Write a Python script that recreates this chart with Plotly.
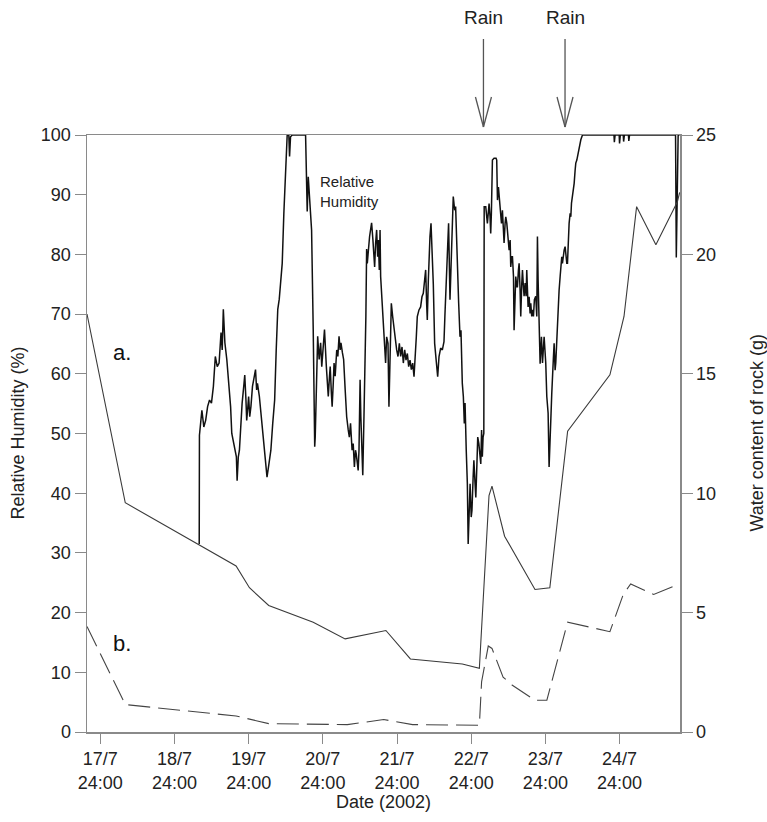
import plotly.graph_objects as go

# ---------------- data ----------------
# x values: days after 17/7 24:00 (2002)
tick_days = [0, 1, 2, 3, 4, 5, 6, 7]
tick_labels = ["17/7<br>24:00", "18/7<br>24:00", "19/7<br>24:00", "20/7<br>24:00",
               "21/7<br>24:00", "22/7<br>24:00", "23/7<br>24:00", "24/7<br>24:00"]

rh_day = [
    1.333, 1.336, 1.369, 1.395, 1.420, 1.446, 1.472, 1.498, 1.524, 1.550,
    1.576, 1.601, 1.627, 1.643, 1.658, 1.679, 1.705, 1.730, 1.756, 1.772,
    1.808, 1.834, 1.844, 1.860, 1.875, 1.896, 1.911, 1.937, 1.947, 1.963,
    1.973, 1.989, 1.999, 2.014, 2.030, 2.051, 2.071, 2.092, 2.107, 2.118,
    2.144, 2.169, 2.195, 2.221, 2.247, 2.273, 2.299, 2.324, 2.350, 2.371,
    2.392, 2.412, 2.452, 2.474, 2.497, 2.510, 2.519, 2.541, 2.551, 2.564,
    2.587, 2.767, 2.776, 2.789, 2.803, 2.816, 2.834, 2.848, 2.870, 2.882,
    2.890, 2.897, 2.915, 2.930, 2.950, 2.970, 2.985, 3.006, 3.022, 3.047,
    3.073, 3.089, 3.099, 3.115, 3.125, 3.140, 3.151, 3.166, 3.187, 3.202,
    3.218, 3.233, 3.244, 3.264, 3.280, 3.301, 3.321, 3.342, 3.357, 3.373,
    3.394, 3.409, 3.425, 3.440, 3.450, 3.466, 3.476, 3.487, 3.502, 3.512,
    3.523, 3.538, 3.554, 3.564, 3.580, 3.590, 3.599, 3.630, 3.657, 3.675,
    3.698, 3.711, 3.725, 3.739, 3.748, 3.761, 3.771, 3.779, 3.797, 3.815,
    3.833, 3.846, 3.860, 3.878, 3.891, 3.905, 3.923, 3.941, 3.959, 3.977,
    3.995, 4.013, 4.031, 4.049, 4.067, 4.085, 4.103, 4.121, 4.139, 4.157,
    4.175, 4.193, 4.211, 4.229, 4.242, 4.260, 4.273, 4.296, 4.318, 4.336,
    4.354, 4.372, 4.386, 4.399, 4.408, 4.422, 4.431, 4.444, 4.458, 4.476,
    4.489, 4.507, 4.530, 4.548, 4.566, 4.588, 4.611, 4.633, 4.645, 4.656,
    4.669, 4.680, 4.695, 4.714, 4.732, 4.746, 4.758, 4.777, 4.790, 4.804,
    4.813, 4.831, 4.849, 4.862, 4.880, 4.894, 4.907, 4.917, 4.933, 4.948,
    4.959, 4.974, 4.985, 5.000, 5.010, 5.026, 5.036, 5.052, 5.062, 5.077,
    5.088, 5.103, 5.114, 5.129, 5.140, 5.150, 5.160, 5.170, 5.175, 5.196,
    5.218, 5.232, 5.241, 5.254, 5.263, 5.272, 5.277, 5.286, 5.308, 5.335,
    5.344, 5.354, 5.367, 5.376, 5.390, 5.399, 5.408, 5.421, 5.435, 5.443,
    5.457, 5.466, 5.480, 5.489, 5.502, 5.511, 5.525, 5.533, 5.547, 5.556,
    5.570, 5.578, 5.592, 5.601, 5.614, 5.623, 5.637, 5.646, 5.659, 5.668,
    5.682, 5.691, 5.704, 5.713, 5.727, 5.740, 5.749, 5.758, 5.767, 5.781,
    5.794, 5.803, 5.816, 5.825, 5.839, 5.852, 5.870, 5.884, 5.893, 5.902,
    5.915, 5.929, 5.947, 5.961, 5.983, 6.005, 6.019, 6.037, 6.050, 6.064,
    6.073, 6.086, 6.095, 6.109, 6.118, 6.131, 6.140, 6.154, 6.163, 6.177,
    6.185, 6.199, 6.208, 6.221, 6.230, 6.244, 6.253, 6.266, 6.275, 6.289,
    6.298, 6.311, 6.320, 6.334, 6.343, 6.352, 6.365, 6.379, 6.388, 6.401,
    6.410, 6.424, 6.433, 6.446, 6.455, 6.469, 6.478, 6.500, 6.925, 6.930,
    6.940, 6.995, 7.000, 7.010, 7.050, 7.055, 7.065, 7.120, 7.125, 7.135,
    7.755, 7.765, 7.775, 7.790, 7.810,
]
rh_pct = [
    31.5, 49.7, 53.9, 51.1, 52.2, 54.5, 55.6, 55.1, 57.9, 62.9,
    61.2, 61.8, 66.9, 64.0, 70.8, 65.2, 62.4, 59.0, 54.5, 50.0,
    47.8, 46.1, 42.1, 46.1, 47.2, 52.2, 55.0, 58.4, 59.8, 55.6,
    52.2, 54.5, 56.2, 52.8, 54.5, 57.9, 59.0, 60.7, 57.3, 58.4,
    56.2, 52.8, 49.4, 46.1, 42.7, 44.9, 47.2, 51.7, 55.6, 64.0,
    70.8, 72.5, 78.5, 86.9, 95.3, 98.6, 100.0, 100.0, 96.4, 99.7,
    100.0, 100.0, 93.6, 87.2, 93.0, 89.7, 85.2, 84.1, 67.4, 50.6,
    47.8, 49.4, 58.4, 66.3, 62.4, 65.2, 61.2, 64.6, 67.4, 61.2,
    56.2, 59.5, 61.2, 56.7, 54.5, 58.4, 61.8, 59.6, 64.0, 62.9,
    66.3, 64.0, 65.2, 63.5, 62.4, 57.3, 52.8, 50.6, 49.4, 51.7,
    47.2, 48.3, 44.4, 47.2, 46.6, 44.9, 43.8, 47.2, 59.0, 52.8,
    47.2, 43.0, 52.8, 58.4, 69.7, 80.9, 78.5, 83.0, 85.3, 82.4,
    77.9, 81.8, 84.1, 79.6, 82.4, 77.4, 84.1, 76.3, 72.9, 68.5,
    65.1, 61.8, 66.2, 65.1, 54.5, 61.8, 71.8, 69.6, 67.4, 65.1,
    64.0, 62.9, 65.1, 62.9, 64.5, 61.8, 64.0, 62.3, 63.4, 61.2,
    62.3, 60.7, 61.8, 59.5, 61.8, 66.2, 69.6, 70.7, 71.2, 72.9,
    73.5, 76.3, 77.4, 71.8, 69.0, 75.7, 80.7, 83.0, 85.2, 79.6,
    75.0, 65.1, 61.8, 59.5, 62.9, 64.3, 64.0, 65.4, 69.6, 72.9,
    78.5, 81.0, 85.2, 72.4, 79.6, 84.1, 89.7, 87.4, 88.0, 82.4,
    76.8, 71.8, 66.2, 67.3, 58.4, 56.2, 51.7, 55.1, 47.2, 41.6,
    31.5, 38.2, 41.6, 36.0, 37.1, 42.7, 45.5, 41.6, 39.3, 44.9,
    49.4, 48.3, 47.2, 44.9, 50.6, 46.1, 49.4, 50.0, 88.0, 88.0,
    85.2, 87.4, 88.5, 86.3, 83.5, 86.9, 89.7, 95.8, 96.1, 96.1,
    95.8, 89.1, 91.3, 89.7, 88.0, 86.3, 85.2, 87.4, 84.1, 81.9,
    85.2, 86.3, 85.2, 84.1, 81.9, 80.7, 82.4, 77.9, 79.6, 79.6,
    76.3, 67.3, 72.9, 76.3, 74.6, 74.6, 77.4, 78.5, 74.0, 69.6,
    75.2, 77.4, 74.6, 73.0, 75.2, 73.0, 77.4, 74.0, 71.2, 72.9,
    70.1, 71.8, 69.6, 70.7, 69.6, 72.4, 73.0, 69.6, 83.0, 75.7,
    69.6, 61.7, 66.2, 61.8, 66.2, 61.8, 56.2, 53.4, 44.4, 47.9,
    52.2, 56.7, 60.6, 62.9, 65.1, 60.6, 61.8, 66.2, 69.6, 71.8,
    74.0, 76.3, 77.4, 79.6, 78.5, 80.7, 80.7, 81.3, 79.6, 78.5,
    78.5, 84.1, 85.2, 86.9, 86.3, 88.6, 89.7, 91.3, 91.9, 94.1,
    95.3, 95.8, 96.4, 97.5, 98.0, 98.6, 99.2, 100.0, 100.0, 98.8,
    100.0, 100.0, 98.6, 100.0, 100.0, 98.9, 100.0, 100.0, 99.0, 100.0,
    100.0, 79.5, 86.0, 100.0, 100.0,
]

water_a_day = [-0.18, 0.336, 1.83, 2.01, 2.27, 2.87, 3.30, 3.85, 4.18, 4.88,
               5.11, 5.24, 5.28, 5.45, 5.86, 6.06, 6.30, 6.87, 7.06, 7.23,
               7.49, 7.78, 7.81]
water_a_g = [17.5, 9.6, 6.95, 6.04, 5.3, 4.6, 3.9, 4.25, 3.06, 2.85,
             2.67, 9.9, 10.3, 8.2, 5.97, 6.04, 12.6, 14.96, 17.4, 22.0,
             20.4, 22.2, 22.6]

water_b_day = [-0.18, 0.336, 1.83, 2.27, 3.33, 3.82, 4.21, 5.01, 5.11, 5.14,
               5.23, 5.28, 5.43, 5.55, 5.86, 6.02, 6.30, 6.87, 7.05, 7.15,
               7.46, 7.81]
water_b_g = [4.42, 1.15, 0.67, 0.35, 0.31, 0.52, 0.31, 0.28, 0.28, 2.1,
             3.6, 3.5, 2.3, 1.97, 1.33, 1.33, 4.6, 4.2, 5.76, 6.2,
             5.76, 6.2]

rain_days = [5.165, 6.265]
x_range = [-0.18, 7.815]

# ---------------- figure ----------------
FONT = "Liberation Sans, Arial, sans-serif"
AXIS_COLOR = "#8a8a8a"

fig = go.Figure()
fig.add_trace(go.Scatter(x=rh_day, y=rh_pct, mode="lines",
                         line=dict(color="#111111", width=1.5), yaxis="y",
                         showlegend=False))
fig.add_trace(go.Scatter(x=water_a_day, y=water_a_g, mode="lines",
                         line=dict(color="#3a3a3a", width=1.1), yaxis="y2",
                         showlegend=False))
fig.add_trace(go.Scatter(x=water_b_day, y=water_b_g, mode="lines",
                         line=dict(color="#444444", width=1.1, dash="22px,8px"),
                         yaxis="y2", showlegend=False))

annotations = [
    dict(text="a.", x=0.04, y=63.5, xref="paper", yref="y", showarrow=False,
         font=dict(size=22, color="#111"), xanchor="left", yanchor="middle"),
    dict(text="b.", x=0.04, y=14.8, xref="paper", yref="y", showarrow=False,
         font=dict(size=22, color="#111"), xanchor="left", yanchor="middle"),
    dict(text="Relative<br>Humidity", x=2.93, y=90.5, xref="x", yref="y",
         showarrow=False, align="left", xanchor="left", yanchor="middle",
         font=dict(size=15, color="#222")),
    dict(text="Date (2002)", x=0.5, y=-0.117, xref="paper", yref="paper",
         showarrow=False, xanchor="center", yanchor="middle",
         font=dict(size=18, color="#222")),
    dict(text="Relative Humidity (%)", x=0, y=0.5, xref="paper", yref="paper",
         xshift=-70, textangle=-90, showarrow=False, xanchor="center",
         yanchor="middle", font=dict(size=18, color="#222")),
    dict(text="Water content of rock (g)", x=1, y=0.5, xref="paper",
         yref="paper", xshift=76, textangle=-90, showarrow=False,
         xanchor="center", yanchor="middle", font=dict(size=18, color="#222")),
]
shapes = []
for rd in rain_days:
    annotations.append(dict(text="Rain", x=rd, y=1.196, xref="x", yref="paper",
                            showarrow=False, xanchor="center", yanchor="middle",
                            font=dict(size=19, color="#222")))
    common = dict(type="line", xref="x", yref="paper", xsizemode="pixel",
                  ysizemode="pixel", xanchor=rd, yanchor=1,
                  line=dict(color="#555555", width=1.3))
    shapes.append(dict(common, x0=0, x1=0, y0=8, y1=96))
    shapes.append(dict(common, x0=-8, x1=0, y0=38, y1=8))
    shapes.append(dict(common, x0=8, x1=0, y0=38, y1=8))

fig.update_layout(
    width=767, height=822,
    margin=dict(l=87, r=87, t=135, b=90, pad=0),
    paper_bgcolor="white", plot_bgcolor="white",
    font=dict(family=FONT, size=18, color="#222"),
    xaxis=dict(range=x_range, tickmode="array", tickvals=tick_days,
               ticktext=tick_labels, ticks="outside", ticklen=10,
               tickcolor=AXIS_COLOR, showline=True, linecolor=AXIS_COLOR,
               linewidth=1.5, mirror=True, showgrid=False, zeroline=False,
               tickfont=dict(size=18)),
    yaxis=dict(range=[0, 100], tickvals=list(range(0, 101, 10)),
               ticks="outside", ticklen=11, tickcolor=AXIS_COLOR,
               showline=True, linecolor=AXIS_COLOR, linewidth=1.5,
               showgrid=False, zeroline=False, tickfont=dict(size=18)),
    yaxis2=dict(range=[0, 25], tickvals=[0, 5, 10, 15, 20, 25],
                overlaying="y", side="right", ticks="outside", ticklen=11,
                tickcolor=AXIS_COLOR, showline=True, linecolor=AXIS_COLOR,
                linewidth=1.5, showgrid=False, zeroline=False,
                tickfont=dict(size=18)),
    annotations=annotations,
    shapes=shapes,
)

# remove the default page margin so the 767x822 figure fills the window exactly
fig.write_html("out.html",
               config={"displayModeBar": False, "staticPlot": True},
               post_script="document.body.style.margin='0px';"
                           "document.body.style.overflow='hidden';")
